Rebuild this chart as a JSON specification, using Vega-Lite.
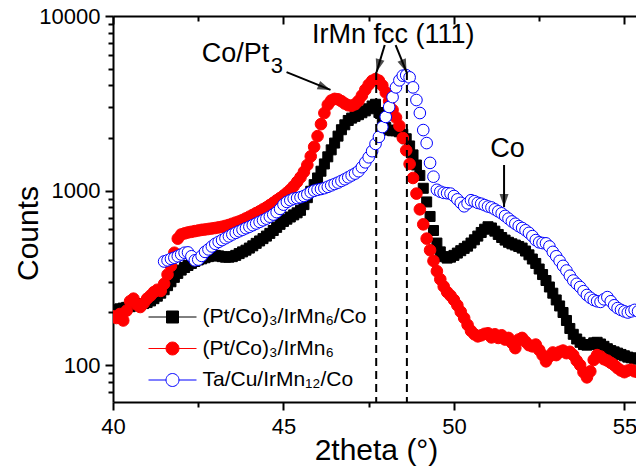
{
"$schema": "https://vega.github.io/schema/vega-lite/v6.json",
"width": 523, "height": 386,
"autosize": {"type": "none"},
"padding": {"left": 113, "top": 16, "right": 0, "bottom": 68},
"background": "white",
"config": {"view": {"stroke": null}, "font": "Liberation Sans",
  "axis": {"domainColor": "black", "domainWidth": 2, "tickColor": "black", "tickWidth": 2, "labelColor": "black", "titleColor": "black", "labelFont": "Liberation Sans", "titleFont": "Liberation Sans", "titleFontWeight": "normal", "grid": false}},
"datasets": {
"pts": [
{"s":"a","x":40.0,"y":205},{"s":"a","x":40.1,"y":207},{"s":"a","x":40.2,"y":210},{"s":"a","x":40.3,"y":212},{"s":"a","x":40.4,"y":214},{"s":"a","x":40.5,"y":216},{"s":"a","x":40.6,"y":218},{"s":"a","x":40.7,"y":220},{"s":"a","x":40.8,"y":222},{"s":"a","x":40.9,"y":225},
{"s":"a","x":41.0,"y":228},{"s":"a","x":41.1,"y":233},{"s":"a","x":41.2,"y":240},{"s":"a","x":41.3,"y":248},{"s":"a","x":41.4,"y":258},{"s":"a","x":41.5,"y":270},{"s":"a","x":41.6,"y":285},{"s":"a","x":41.7,"y":300},{"s":"a","x":41.8,"y":318},{"s":"a","x":41.9,"y":335},
{"s":"a","x":42.0,"y":350},{"s":"a","x":42.1,"y":362},{"s":"a","x":42.2,"y":372},{"s":"a","x":42.3,"y":382},{"s":"a","x":42.4,"y":392},{"s":"a","x":42.5,"y":400},{"s":"a","x":42.6,"y":406},{"s":"a","x":42.7,"y":412},{"s":"a","x":42.8,"y":418},{"s":"a","x":42.9,"y":422},
{"s":"a","x":43.0,"y":425},{"s":"a","x":43.1,"y":422},{"s":"a","x":43.2,"y":418},{"s":"a","x":43.3,"y":415},{"s":"a","x":43.4,"y":415},{"s":"a","x":43.5,"y":418},{"s":"a","x":43.6,"y":425},{"s":"a","x":43.7,"y":435},{"s":"a","x":43.8,"y":445},{"s":"a","x":43.9,"y":455},
{"s":"a","x":44.0,"y":468},{"s":"a","x":44.1,"y":482},{"s":"a","x":44.2,"y":498},{"s":"a","x":44.3,"y":514},{"s":"a","x":44.4,"y":530},{"s":"a","x":44.5,"y":548},{"s":"a","x":44.6,"y":568},{"s":"a","x":44.7,"y":590},{"s":"a","x":44.8,"y":615},{"s":"a","x":44.9,"y":640},
{"s":"a","x":45.0,"y":665},{"s":"a","x":45.1,"y":685},{"s":"a","x":45.2,"y":705},{"s":"a","x":45.3,"y":725},{"s":"a","x":45.4,"y":745},{"s":"a","x":45.5,"y":770},{"s":"a","x":45.6,"y":830},{"s":"a","x":45.7,"y":910},{"s":"a","x":45.8,"y":990},{"s":"a","x":45.9,"y":1080},
{"s":"a","x":46.0,"y":1180},{"s":"a","x":46.1,"y":1290},{"s":"a","x":46.2,"y":1420},{"s":"a","x":46.3,"y":1560},{"s":"a","x":46.4,"y":1710},{"s":"a","x":46.5,"y":1870},{"s":"a","x":46.6,"y":2050},{"s":"a","x":46.7,"y":2230},{"s":"a","x":46.8,"y":2380},{"s":"a","x":46.9,"y":2520},
{"s":"a","x":47.0,"y":2600},{"s":"a","x":47.1,"y":2660},{"s":"a","x":47.2,"y":2720},{"s":"a","x":47.3,"y":2790},{"s":"a","x":47.4,"y":2860},{"s":"a","x":47.5,"y":2940},{"s":"a","x":47.6,"y":3050},{"s":"a","x":47.7,"y":3120},{"s":"a","x":47.8,"y":2800},{"s":"a","x":47.9,"y":2480},
{"s":"a","x":48.0,"y":2300},{"s":"a","x":48.1,"y":2220},{"s":"a","x":48.2,"y":2200},{"s":"a","x":48.3,"y":2200},{"s":"a","x":48.4,"y":2170},{"s":"a","x":48.5,"y":2100},{"s":"a","x":48.6,"y":1980},{"s":"a","x":48.7,"y":1800},{"s":"a","x":48.8,"y":1600},{"s":"a","x":48.9,"y":1400},
{"s":"a","x":49.0,"y":1220},{"s":"a","x":49.1,"y":1030},{"s":"a","x":49.2,"y":860},{"s":"a","x":49.3,"y":710},{"s":"a","x":49.4,"y":590},{"s":"a","x":49.5,"y":500},{"s":"a","x":49.6,"y":445},{"s":"a","x":49.7,"y":418},{"s":"a","x":49.8,"y":410},{"s":"a","x":49.9,"y":415},
{"s":"a","x":50.0,"y":425},{"s":"a","x":50.1,"y":438},{"s":"a","x":50.2,"y":452},{"s":"a","x":50.3,"y":466},{"s":"a","x":50.4,"y":480},{"s":"a","x":50.5,"y":500},{"s":"a","x":50.6,"y":522},{"s":"a","x":50.7,"y":548},{"s":"a","x":50.8,"y":575},{"s":"a","x":50.9,"y":600},
{"s":"a","x":51.0,"y":620},{"s":"a","x":51.1,"y":610},{"s":"a","x":51.2,"y":585},{"s":"a","x":51.3,"y":560},{"s":"a","x":51.4,"y":538},{"s":"a","x":51.5,"y":520},{"s":"a","x":51.6,"y":505},{"s":"a","x":51.7,"y":495},{"s":"a","x":51.8,"y":487},{"s":"a","x":51.9,"y":478},
{"s":"a","x":52.0,"y":468},{"s":"a","x":52.1,"y":450},{"s":"a","x":52.2,"y":428},{"s":"a","x":52.3,"y":405},{"s":"a","x":52.4,"y":382},{"s":"a","x":52.5,"y":355},{"s":"a","x":52.6,"y":330},{"s":"a","x":52.7,"y":305},{"s":"a","x":52.8,"y":280},{"s":"a","x":52.9,"y":258},
{"s":"a","x":53.0,"y":236},{"s":"a","x":53.1,"y":218},{"s":"a","x":53.2,"y":200},{"s":"a","x":53.3,"y":180},{"s":"a","x":53.4,"y":162},{"s":"a","x":53.5,"y":150},{"s":"a","x":53.6,"y":141},{"s":"a","x":53.7,"y":135},{"s":"a","x":53.8,"y":131},{"s":"a","x":53.9,"y":130},
{"s":"a","x":54.0,"y":131},{"s":"a","x":54.1,"y":134},{"s":"a","x":54.2,"y":135},{"s":"a","x":54.3,"y":132},{"s":"a","x":54.4,"y":128},{"s":"a","x":54.5,"y":124},{"s":"a","x":54.6,"y":121},{"s":"a","x":54.7,"y":119},{"s":"a","x":54.8,"y":117},{"s":"a","x":54.9,"y":115},
{"s":"a","x":55.0,"y":113},{"s":"a","x":55.1,"y":111},{"s":"a","x":55.2,"y":110},{"s":"a","x":55.3,"y":109},{"s":"a","x":55.4,"y":108},
{"s":"b","x":40.0,"y":190},{"s":"b","x":40.1,"y":186},{"s":"b","x":40.2,"y":196},{"s":"b","x":40.3,"y":180},{"s":"b","x":40.4,"y":205},{"s":"b","x":40.5,"y":232},{"s":"b","x":40.6,"y":240},{"s":"b","x":40.7,"y":222},{"s":"b","x":40.8,"y":215},{"s":"b","x":40.9,"y":226},
{"s":"b","x":41.0,"y":240},{"s":"b","x":41.1,"y":250},{"s":"b","x":41.2,"y":262},{"s":"b","x":41.3,"y":270},{"s":"b","x":41.4,"y":266},{"s":"b","x":41.5,"y":292},{"s":"b","x":41.6,"y":330},{"s":"b","x":41.7,"y":370},{"s":"b","x":41.8,"y":440},{"s":"b","x":41.9,"y":530},
{"s":"b","x":42.0,"y":560},{"s":"b","x":42.1,"y":568},{"s":"b","x":42.2,"y":575},{"s":"b","x":42.3,"y":580},{"s":"b","x":42.4,"y":585},{"s":"b","x":42.5,"y":590},{"s":"b","x":42.6,"y":595},{"s":"b","x":42.7,"y":598},{"s":"b","x":42.8,"y":602},{"s":"b","x":42.9,"y":606},
{"s":"b","x":43.0,"y":610},{"s":"b","x":43.1,"y":615},{"s":"b","x":43.2,"y":620},{"s":"b","x":43.3,"y":627},{"s":"b","x":43.4,"y":635},{"s":"b","x":43.5,"y":645},{"s":"b","x":43.6,"y":655},{"s":"b","x":43.7,"y":665},{"s":"b","x":43.8,"y":678},{"s":"b","x":43.9,"y":692},
{"s":"b","x":44.0,"y":708},{"s":"b","x":44.1,"y":725},{"s":"b","x":44.2,"y":742},{"s":"b","x":44.3,"y":760},{"s":"b","x":44.4,"y":780},{"s":"b","x":44.5,"y":800},{"s":"b","x":44.6,"y":825},{"s":"b","x":44.7,"y":850},{"s":"b","x":44.8,"y":878},{"s":"b","x":44.9,"y":905},
{"s":"b","x":45.0,"y":935},{"s":"b","x":45.1,"y":970},{"s":"b","x":45.2,"y":1010},{"s":"b","x":45.3,"y":1060},{"s":"b","x":45.4,"y":1120},{"s":"b","x":45.5,"y":1190},{"s":"b","x":45.6,"y":1280},{"s":"b","x":45.7,"y":1400},{"s":"b","x":45.8,"y":1570},{"s":"b","x":45.9,"y":1780},
{"s":"b","x":46.0,"y":2050},{"s":"b","x":46.1,"y":2400},{"s":"b","x":46.2,"y":2780},{"s":"b","x":46.3,"y":3100},{"s":"b","x":46.4,"y":3280},{"s":"b","x":46.5,"y":3350},{"s":"b","x":46.6,"y":3330},{"s":"b","x":46.7,"y":3250},{"s":"b","x":46.8,"y":3150},{"s":"b","x":46.9,"y":3080},
{"s":"b","x":47.0,"y":3060},{"s":"b","x":47.1,"y":3120},{"s":"b","x":47.2,"y":3260},{"s":"b","x":47.3,"y":3500},{"s":"b","x":47.4,"y":3780},{"s":"b","x":47.5,"y":4040},{"s":"b","x":47.6,"y":4250},{"s":"b","x":47.7,"y":4350},{"s":"b","x":47.8,"y":4260},{"s":"b","x":47.9,"y":4000},
{"s":"b","x":48.0,"y":3650},{"s":"b","x":48.1,"y":3250},{"s":"b","x":48.2,"y":2900},{"s":"b","x":48.3,"y":2620},{"s":"b","x":48.4,"y":2350},{"s":"b","x":48.5,"y":2000},{"s":"b","x":48.6,"y":1700},{"s":"b","x":48.7,"y":1420},{"s":"b","x":48.8,"y":1180},{"s":"b","x":48.9,"y":960},
{"s":"b","x":49.0,"y":780},{"s":"b","x":49.1,"y":640},{"s":"b","x":49.2,"y":530},{"s":"b","x":49.3,"y":455},{"s":"b","x":49.4,"y":395},{"s":"b","x":49.5,"y":345},{"s":"b","x":49.6,"y":310},{"s":"b","x":49.7,"y":282},{"s":"b","x":49.8,"y":262},{"s":"b","x":49.9,"y":250},
{"s":"b","x":50.0,"y":236},{"s":"b","x":50.1,"y":220},{"s":"b","x":50.2,"y":202},{"s":"b","x":50.3,"y":186},{"s":"b","x":50.4,"y":170},{"s":"b","x":50.5,"y":157},{"s":"b","x":50.6,"y":150},{"s":"b","x":50.7,"y":146},{"s":"b","x":50.8,"y":148},{"s":"b","x":50.9,"y":151},
{"s":"b","x":51.0,"y":152},{"s":"b","x":51.1,"y":144},{"s":"b","x":51.2,"y":150},{"s":"b","x":51.3,"y":143},{"s":"b","x":51.4,"y":148},{"s":"b","x":51.5,"y":140},{"s":"b","x":51.6,"y":143},{"s":"b","x":51.7,"y":134},{"s":"b","x":51.8,"y":125},{"s":"b","x":51.9,"y":140},
{"s":"b","x":52.0,"y":143},{"s":"b","x":52.1,"y":136},{"s":"b","x":52.2,"y":130},{"s":"b","x":52.3,"y":128},{"s":"b","x":52.4,"y":131},{"s":"b","x":52.5,"y":122},{"s":"b","x":52.6,"y":114},{"s":"b","x":52.7,"y":105},{"s":"b","x":52.8,"y":112},{"s":"b","x":52.9,"y":118},
{"s":"b","x":53.0,"y":114},{"s":"b","x":53.1,"y":119},{"s":"b","x":53.2,"y":121},{"s":"b","x":53.3,"y":117},{"s":"b","x":53.4,"y":119},{"s":"b","x":53.5,"y":114},{"s":"b","x":53.6,"y":106},{"s":"b","x":53.7,"y":100},{"s":"b","x":53.8,"y":91},{"s":"b","x":53.9,"y":85},
{"s":"b","x":54.0,"y":92},{"s":"b","x":54.1,"y":107},{"s":"b","x":54.2,"y":114},{"s":"b","x":54.3,"y":112},{"s":"b","x":54.4,"y":108},{"s":"b","x":54.5,"y":106},{"s":"b","x":54.6,"y":103},{"s":"b","x":54.7,"y":100},{"s":"b","x":54.8,"y":96},{"s":"b","x":54.9,"y":93},
{"s":"b","x":55.0,"y":91},{"s":"b","x":55.1,"y":93},{"s":"b","x":55.2,"y":94},{"s":"b","x":55.3,"y":92},{"s":"b","x":55.4,"y":91},
{"s":"c","x":41.5,"y":392},{"s":"c","x":41.6,"y":398},{"s":"c","x":41.7,"y":406},{"s":"c","x":41.8,"y":412},{"s":"c","x":41.9,"y":420},
{"s":"c","x":42.0,"y":430},{"s":"c","x":42.1,"y":440},{"s":"c","x":42.2,"y":442},{"s":"c","x":42.3,"y":420},{"s":"c","x":42.4,"y":398},{"s":"c","x":42.5,"y":402},{"s":"c","x":42.6,"y":422},{"s":"c","x":42.7,"y":445},{"s":"c","x":42.8,"y":460},{"s":"c","x":42.9,"y":478},
{"s":"c","x":43.0,"y":495},{"s":"c","x":43.1,"y":508},{"s":"c","x":43.2,"y":520},{"s":"c","x":43.3,"y":533},{"s":"c","x":43.4,"y":546},{"s":"c","x":43.5,"y":560},{"s":"c","x":43.6,"y":572},{"s":"c","x":43.7,"y":584},{"s":"c","x":43.8,"y":596},{"s":"c","x":43.9,"y":608},
{"s":"c","x":44.0,"y":620},{"s":"c","x":44.1,"y":633},{"s":"c","x":44.2,"y":647},{"s":"c","x":44.3,"y":661},{"s":"c","x":44.4,"y":675},{"s":"c","x":44.5,"y":690},{"s":"c","x":44.6,"y":708},{"s":"c","x":44.7,"y":728},{"s":"c","x":44.8,"y":752},{"s":"c","x":44.9,"y":785},
{"s":"c","x":45.0,"y":830},{"s":"c","x":45.1,"y":860},{"s":"c","x":45.2,"y":880},{"s":"c","x":45.3,"y":898},{"s":"c","x":45.4,"y":905},{"s":"c","x":45.5,"y":915},{"s":"c","x":45.6,"y":930},{"s":"c","x":45.7,"y":952},{"s":"c","x":45.8,"y":978},{"s":"c","x":45.9,"y":998},
{"s":"c","x":46.0,"y":1010},{"s":"c","x":46.1,"y":1020},{"s":"c","x":46.2,"y":1032},{"s":"c","x":46.3,"y":1050},{"s":"c","x":46.4,"y":1070},{"s":"c","x":46.5,"y":1090},{"s":"c","x":46.6,"y":1110},{"s":"c","x":46.7,"y":1135},{"s":"c","x":46.8,"y":1160},{"s":"c","x":46.9,"y":1190},
{"s":"c","x":47.0,"y":1220},{"s":"c","x":47.1,"y":1250},{"s":"c","x":47.2,"y":1290},{"s":"c","x":47.3,"y":1360},{"s":"c","x":47.4,"y":1450},{"s":"c","x":47.5,"y":1550},{"s":"c","x":47.6,"y":1680},{"s":"c","x":47.7,"y":1850},{"s":"c","x":47.8,"y":2030},{"s":"c","x":47.9,"y":2310},
{"s":"c","x":48.0,"y":2640},{"s":"c","x":48.1,"y":3010},{"s":"c","x":48.2,"y":3430},{"s":"c","x":48.3,"y":3900},{"s":"c","x":48.4,"y":4280},{"s":"c","x":48.5,"y":4550},{"s":"c","x":48.6,"y":4580},{"s":"c","x":48.7,"y":4450},{"s":"c","x":48.8,"y":3900},{"s":"c","x":48.9,"y":3300},
{"s":"c","x":49.0,"y":2780},{"s":"c","x":49.1,"y":2220},{"s":"c","x":49.2,"y":1870},{"s":"c","x":49.3,"y":1440},{"s":"c","x":49.4,"y":1200},{"s":"c","x":49.5,"y":1010},{"s":"c","x":49.6,"y":985},{"s":"c","x":49.7,"y":970},{"s":"c","x":49.8,"y":965},{"s":"c","x":49.9,"y":960},
{"s":"c","x":50.0,"y":930},{"s":"c","x":50.1,"y":890},{"s":"c","x":50.2,"y":850},{"s":"c","x":50.3,"y":812},{"s":"c","x":50.4,"y":845},{"s":"c","x":50.5,"y":880},{"s":"c","x":50.6,"y":868},{"s":"c","x":50.7,"y":850},{"s":"c","x":50.8,"y":840},{"s":"c","x":50.9,"y":825},
{"s":"c","x":51.0,"y":810},{"s":"c","x":51.1,"y":800},{"s":"c","x":51.2,"y":780},{"s":"c","x":51.3,"y":760},{"s":"c","x":51.4,"y":740},{"s":"c","x":51.5,"y":715},{"s":"c","x":51.6,"y":690},{"s":"c","x":51.7,"y":665},{"s":"c","x":51.8,"y":645},{"s":"c","x":51.9,"y":625},
{"s":"c","x":52.0,"y":610},{"s":"c","x":52.1,"y":592},{"s":"c","x":52.2,"y":572},{"s":"c","x":52.3,"y":548},{"s":"c","x":52.4,"y":520},{"s":"c","x":52.5,"y":505},{"s":"c","x":52.6,"y":500},{"s":"c","x":52.7,"y":498},{"s":"c","x":52.8,"y":478},{"s":"c","x":52.9,"y":445},
{"s":"c","x":53.0,"y":420},{"s":"c","x":53.1,"y":395},{"s":"c","x":53.2,"y":370},{"s":"c","x":53.3,"y":348},{"s":"c","x":53.4,"y":325},{"s":"c","x":53.5,"y":305},{"s":"c","x":53.6,"y":292},{"s":"c","x":53.7,"y":280},{"s":"c","x":53.8,"y":265},{"s":"c","x":53.9,"y":252},
{"s":"c","x":54.0,"y":243},{"s":"c","x":54.1,"y":236},{"s":"c","x":54.2,"y":232},{"s":"c","x":54.3,"y":230},{"s":"c","x":54.4,"y":238},{"s":"c","x":54.5,"y":245},{"s":"c","x":54.6,"y":232},{"s":"c","x":54.7,"y":220},{"s":"c","x":54.8,"y":212},{"s":"c","x":54.9,"y":207},
{"s":"c","x":55.0,"y":203},{"s":"c","x":55.1,"y":200},{"s":"c","x":55.2,"y":203},{"s":"c","x":55.3,"y":207},{"s":"c","x":55.4,"y":203}
],
"vlines": [{"x": 47.72, "y": 4770, "y2": 61.4}, {"x": 48.62, "y": 4770, "y2": 61.4}],
"arrows": [
{"id": "copt", "x": 45.09, "y": 4770, "x2": 46.38, "y2": 3770},
{"id": "ir1", "x": 47.97, "y": 6820, "x2": 47.73, "y2": 4770},
{"id": "ir2", "x": 48.29, "y": 6820, "x2": 48.61, "y2": 4770},
{"id": "co", "x": 51.47, "y": 1400, "x2": 51.47, "y2": 804}
],
"labels": [
{"t": "IrMn fcc (111)", "x": 48.22, "y": 7000, "k": "c27"},
{"t": "Co", "x": 51.57, "y": 1556, "k": "c27"},
{"t": "Co/Pt", "x": 42.6, "y": 5440, "k": "l27"},
{"t": "3", "x": 44.63, "y": 4710, "k": "l22"}
]
},
"layer": [
{
 "data": {"name": "pts"},
 "mark": {"type": "point", "filled": true, "clip": true, "strokeWidth": 1, "opacity": 1},
 "encoding": {
  "x": {"field": "x", "type": "quantitative", "scale": {"domain": [40, 55.34], "nice": false, "zero": false},
        "axis": {"orient": "bottom", "values": [40, 42.5, 45, 47.5, 50, 52.5, 55], "labelExpr": "datum.value % 5 === 0 ? datum.label : ''",
                 "tickSize": {"condition": {"test": "datum.value % 5 === 0", "value": 8}, "value": 5},
                 "labelFontSize": 22, "labelPadding": 6, "labelFlush": false, "labelOverlap": false,
                 "title": "2theta (°)", "titleFontSize": 30, "titleX": 263, "titleY": 57, "titleBaseline": "alphabetic", "titleAlign": "center", "titleAnchor": null}},
  "y": {"field": "y", "type": "quantitative", "scale": {"type": "log", "domain": [61.4, 10000], "nice": false},
        "axis": {"orient": "left", "values": [70, 80, 90, 100, 200, 300, 400, 500, 600, 700, 800, 900, 1000, 2000, 3000, 4000, 5000, 6000, 7000, 8000, 9000, 10000],
                 "labelExpr": "(datum.value === 100 || datum.value === 1000 || datum.value === 10000) ? format(datum.value, 'd') : ''",
                 "tickSize": {"condition": {"test": "datum.value === 100 || datum.value === 1000 || datum.value === 10000", "value": 8}, "value": 5},
                 "labelFontSize": 22, "labelPadding": 5, "labelFlush": false, "labelOverlap": false,
                 "title": "Counts", "titleFontSize": 30, "titleX": -76, "titleY": 217, "titleBaseline": "alphabetic", "titleAlign": "center", "titleAngle": 270, "titleAnchor": null}},
  "fill": {"field": "s", "type": "nominal", "scale": {"domain": ["a", "b", "c"], "range": ["black", "red", "white"]},
        "legend": {"title": null, "orient": "none", "legendX": 47, "legendY": 288.5, "padding": 0, "rowPadding": 8.5,
                   "symbolSize": 576, "symbolStrokeWidth": 1, "labelFont": "Liberation Sans", "labelFontSize": 21, "labelColor": "black", "labelOffset": 17.5, "labelLimit": 400,
                   "labelExpr": "datum.value === 'a' ? '(Pt/Co)₃/IrMn₆/Co' : datum.value === 'b' ? '(Pt/Co)₃/IrMn₆' : 'Ta/Cu/IrMn₁₂/Co'",
                   "encoding": {"symbols": {
                      "shape": {"condition": {"test": "datum.value === 'a'", "value": "M-2,0H-0.5M0.5,0H2M-0.5,-0.5H0.5V0.5H-0.5Z"}, "value": "M-2,0H-0.54M0.54,0H2M-0.54,0A0.54,0.54,0,1,0,0.54,0A0.54,0.54,0,1,0,-0.54,0Z"},
                      "size": {"value": 576}}}}},
  "stroke": {"field": "s", "type": "nominal", "scale": {"domain": ["a", "b", "c"], "range": ["black", "red", "blue"]},
        "legend": {"title": null, "orient": "none", "legendX": 47, "legendY": 288.5, "padding": 0, "rowPadding": 8.5,
                   "symbolSize": 576, "symbolStrokeWidth": 1, "labelFont": "Liberation Sans", "labelFontSize": 21, "labelColor": "black", "labelOffset": 17.5, "labelLimit": 400,
                   "labelExpr": "datum.value === 'a' ? '(Pt/Co)₃/IrMn₆/Co' : datum.value === 'b' ? '(Pt/Co)₃/IrMn₆' : 'Ta/Cu/IrMn₁₂/Co'",
                   "encoding": {"symbols": {
                      "shape": {"condition": {"test": "datum.value === 'a'", "value": "M-2,0H-0.5M0.5,0H2M-0.5,-0.5H0.5V0.5H-0.5Z"}, "value": "M-2,0H-0.54M0.54,0H2M-0.54,0A0.54,0.54,0,1,0,0.54,0A0.54,0.54,0,1,0,-0.54,0Z"},
                      "size": {"value": 576}}}}},
  "shape": {"condition": {"test": "datum.s === 'a'", "value": "square"}, "value": "circle"},
  "size": {"condition": [{"test": "datum.s === 'a'", "value": 100}, {"test": "datum.s === 'b'", "value": 135}], "value": 135}
 }
},
{
 "data": {"name": "vlines"},
 "mark": {"type": "rule", "strokeDash": [8, 5], "strokeWidth": 2, "color": "black"},
 "encoding": {
  "x": {"field": "x", "type": "quantitative",
        "axis": {"orient": "top", "values": [40, 42.5, 45, 47.5, 50, 52.5, 55], "labels": false, "title": null,
                 "tickSize": {"condition": {"test": "datum.value % 5 === 0", "value": -8}, "value": -5}}},
  "y": {"field": "y", "type": "quantitative"},
  "y2": {"field": "y2"}
 }
},
{
 "data": {"name": "arrows"},
 "mark": {"type": "rule", "strokeWidth": 2, "color": "black"},
 "encoding": {
  "x": {"field": "x", "type": "quantitative", "axis": null},
  "y": {"field": "y", "type": "quantitative"},
  "x2": {"field": "x2"}, "y2": {"field": "y2"}
 }
},
{
 "data": {"name": "arrows"},
 "transform": [{"filter": "datum.id === 'copt'"}],
 "mark": {"type": "point", "shape": "M0,0L-0.9,-2.6L0.9,-2.6Z", "size": 100, "filled": true, "color": "black", "angle": 292},
 "encoding": {"x": {"field": "x2", "type": "quantitative", "axis": null}, "y": {"field": "y2", "type": "quantitative"}}
},
{
 "data": {"name": "arrows"},
 "transform": [{"filter": "datum.id === 'ir1'"}],
 "mark": {"type": "point", "shape": "M0,0L-0.9,-2.6L0.9,-2.6Z", "size": 100, "filled": true, "color": "black", "angle": 16},
 "encoding": {"x": {"field": "x2", "type": "quantitative", "axis": null}, "y": {"field": "y2", "type": "quantitative"}}
},
{
 "data": {"name": "arrows"},
 "transform": [{"filter": "datum.id === 'ir2'"}],
 "mark": {"type": "point", "shape": "M0,0L-0.9,-2.6L0.9,-2.6Z", "size": 100, "filled": true, "color": "black", "angle": 338},
 "encoding": {"x": {"field": "x2", "type": "quantitative", "axis": null}, "y": {"field": "y2", "type": "quantitative"}}
},
{
 "data": {"name": "arrows"},
 "transform": [{"filter": "datum.id === 'co'"}],
 "mark": {"type": "point", "shape": "M0,0L-0.9,-2.6L0.9,-2.6Z", "size": 100, "filled": true, "color": "black", "angle": 0},
 "encoding": {"x": {"field": "x2", "type": "quantitative", "axis": null}, "y": {"field": "y2", "type": "quantitative"}}
},
{
 "data": {"name": "labels"},
 "transform": [{"filter": "datum.k === 'c27'"}],
 "mark": {"type": "text", "font": "Liberation Sans", "fontSize": 27, "align": "center", "baseline": "alphabetic", "color": "black"},
 "encoding": {"x": {"field": "x", "type": "quantitative", "axis": null}, "y": {"field": "y", "type": "quantitative"}, "text": {"field": "t"}}
},
{
 "data": {"name": "labels"},
 "transform": [{"filter": "datum.k === 'l27'"}],
 "mark": {"type": "text", "font": "Liberation Sans", "fontSize": 27, "align": "left", "baseline": "alphabetic", "color": "black"},
 "encoding": {"x": {"field": "x", "type": "quantitative", "axis": null}, "y": {"field": "y", "type": "quantitative"}, "text": {"field": "t"}}
},
{
 "data": {"name": "labels"},
 "transform": [{"filter": "datum.k === 'l22'"}],
 "mark": {"type": "text", "font": "Liberation Sans", "fontSize": 22, "align": "left", "baseline": "alphabetic", "color": "black"},
 "encoding": {"x": {"field": "x", "type": "quantitative", "axis": null}, "y": {"field": "y", "type": "quantitative"}, "text": {"field": "t"}}
}
]
}
